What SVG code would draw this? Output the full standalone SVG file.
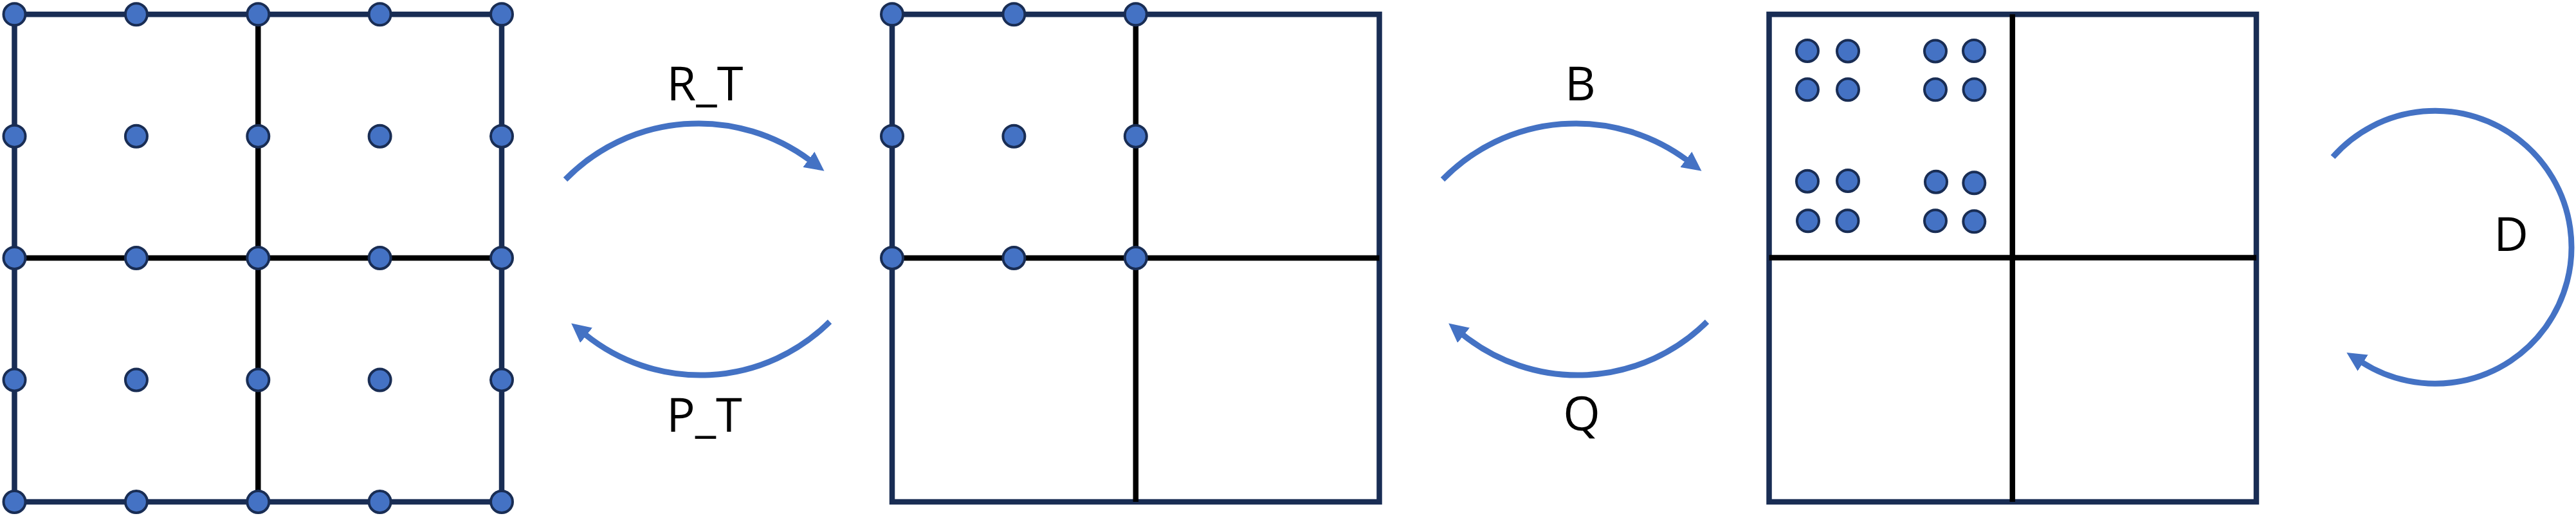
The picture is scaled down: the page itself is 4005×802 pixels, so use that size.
<svg xmlns="http://www.w3.org/2000/svg" width="4005" height="802" viewBox="0 0 4005 802">
<style>
.frame{fill:none;stroke:#192D54;stroke-width:8.5}
.div{fill:none;stroke:#000;stroke-width:8.5}
.dot{fill:#4472C4;stroke:#192D54;stroke-width:4}
.arc{fill:none;stroke:#4472C4;stroke-width:9;marker-end:url(#ah)}
.lbl{font-family:"Open Sans","Noto Sans","Liberation Sans",sans-serif;font-size:74px;fill:#000;text-anchor:middle}
</style>
<defs>
<marker id="ah" markerUnits="userSpaceOnUse" viewBox="0 0 30 30" markerWidth="30" markerHeight="30" refX="2" refY="15" orient="auto"><path d="M0,0 L30,15 L0,30 z" fill="#4472C4"/></marker>
</defs>
<rect width="4005" height="802" fill="#fff"/>

<g id="grid-a">
<rect class="frame" x="22.5" y="22.3" width="757.5" height="757.7"/>
<path class="div" d="M401.3 22.3V780M22.5 401H780"/>
<g class="dot">
<circle r="17" cx="22.5" cy="22.3"/><circle r="17" cx="211.9" cy="22.3"/><circle r="17" cx="401.3" cy="22.3"/><circle r="17" cx="590.6" cy="22.3"/><circle r="17" cx="780" cy="22.3"/>
<circle r="17" cx="22.5" cy="211.7"/><circle r="17" cx="211.9" cy="211.7"/><circle r="17" cx="401.3" cy="211.7"/><circle r="17" cx="590.6" cy="211.7"/><circle r="17" cx="780" cy="211.7"/>
<circle r="17" cx="22.5" cy="401"/><circle r="17" cx="211.9" cy="401"/><circle r="17" cx="401.3" cy="401"/><circle r="17" cx="590.6" cy="401"/><circle r="17" cx="780" cy="401"/>
<circle r="17" cx="22.5" cy="590.5"/><circle r="17" cx="211.9" cy="590.5"/><circle r="17" cx="401.3" cy="590.5"/><circle r="17" cx="590.6" cy="590.5"/><circle r="17" cx="780" cy="590.5"/>
<circle r="17" cx="22.5" cy="780"/><circle r="17" cx="211.9" cy="780"/><circle r="17" cx="401.3" cy="780"/><circle r="17" cx="590.6" cy="780"/><circle r="17" cx="780" cy="780"/>
</g>
</g>

<g id="grid-b">
<rect class="frame" x="1387" y="22.3" width="757.5" height="757.7"/>
<path class="div" d="M1765.8 22.3V780M1387 401H2144.5"/>
<g class="dot">
<circle r="17" cx="1387" cy="22.3"/><circle r="17" cx="1576.4" cy="22.3"/><circle r="17" cx="1765.8" cy="22.3"/>
<circle r="17" cx="1387" cy="211.7"/><circle r="17" cx="1576.4" cy="211.7"/><circle r="17" cx="1765.8" cy="211.7"/>
<circle r="17" cx="1387" cy="401"/><circle r="17" cx="1576.4" cy="401"/><circle r="17" cx="1765.8" cy="401"/>
</g>
</g>

<g id="grid-c">
<rect class="frame" x="2750.5" y="22.3" width="757.5" height="757.7"/>
<path class="div" d="M3128.8 22.3V780M2750.5 400.5H3508"/>
<g class="dot">
<circle r="17" cx="2810" cy="79"/><circle r="17" cx="2873" cy="79.5"/><circle r="17" cx="3009" cy="79.5"/><circle r="17" cx="3069" cy="79"/>
<circle r="17" cx="2810" cy="139.3"/><circle r="17" cx="2873" cy="139.3"/><circle r="17" cx="3009" cy="139.3"/><circle r="17" cx="3069.5" cy="139.3"/>
<circle r="17" cx="2810" cy="281.7"/><circle r="17" cx="2873" cy="281"/><circle r="17" cx="3010" cy="282.7"/><circle r="17" cx="3069.3" cy="284.3"/>
<circle r="17" cx="2811" cy="343.3"/><circle r="17" cx="2872.5" cy="343.3"/><circle r="17" cx="3009" cy="343.3"/><circle r="17" cx="3069.3" cy="344.3"/>
</g>
</g>

<g id="connectors">
<path id="arrow-rt" class="arc" d="M879 279A290 290 0 0 1 1259 249"/>
<path id="arrow-pt" class="arc" d="M1290 500A285 285 0 0 1 910 520"/>
<path id="arrow-b" class="arc" d="M2243 279A290 290 0 0 1 2623 249"/>
<path id="arrow-q" class="arc" d="M2654 500A285 285 0 0 1 2274 520"/>
<path id="arrow-d" class="arc" d="M3627 244A212 212 0 1 1 3672 563"/>
</g>

<g id="labels">
<text class="lbl" x="1096" y="156">R_T</text>
<text class="lbl" x="1095" y="671">P_T</text>
<text class="lbl" x="2457" y="156">B</text>
<text class="lbl" x="2459" y="669">Q</text>
<text class="lbl" x="3904" y="390">D</text>
</g>
</svg>
